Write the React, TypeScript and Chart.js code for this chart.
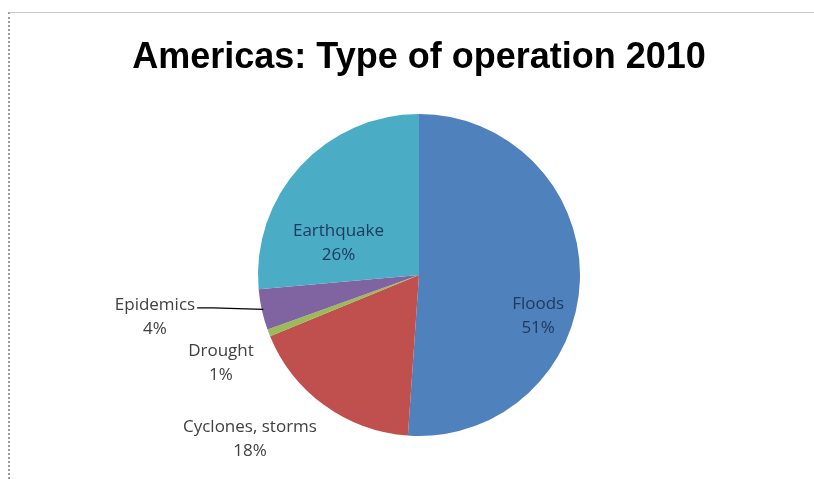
import React, { useEffect, useRef } from "react";
import { Chart, registerables } from "chart.js";

Chart.register(...registerables);

const TITLE = "Americas: Type of operation 2010";
const categories = ["Floods", "Cyclones, storms", "Drought", "Epidemics", "Earthquake"];
const shares = [51.1, 17.7, 0.7, 4.1, 26.4];
const colors = ["#4F81BD", "#C0504D", "#9BBB59", "#8064A2", "#4BACC6"];
const labelLines = [["Floods"], ["Cyclones, storms"], ["Drought"], ["Epidemics"], ["Earthquake"]];
// label placement relative to pie centre in radius units
const labelOffsets = [
  [0.74, 0.255],
  [-1.05, 1.02],
  [-1.23, 0.55],
  [-1.64, 0.26],
  [-0.50, -0.20],
];
const insideLabel = [true, false, false, false, true];

const labelPlugin = {
  id: "excelLabels",
  afterDraw(chart: any) {
    const ctx = chart.ctx;
    const meta = chart.getDatasetMeta(0);
    const arc0 = meta.data[0];
    const cx = arc0.x, cy = arc0.y, r = arc0.outerRadius;
    ctx.save();
    ctx.fillStyle = "#000000";
    ctx.font = "bold 36px 'Liberation Sans', Arial, sans-serif";
    ctx.textAlign = "center";
    ctx.textBaseline = "middle";
    ctx.fillText(TITLE, cx, 58);
    ctx.font = "17px 'Open Sans', sans-serif";
    meta.data.forEach((arc: any, i: number) => {
      const lx = cx + labelOffsets[i][0] * r;
      const ly = cy + labelOffsets[i][1] * r;
      ctx.fillStyle = insideLabel[i] ? "#1F3A60" : "#404040";
      const lines = [...labelLines[i], Math.round(shares[i]) + "%"];
      const lh = 24;
      lines.forEach((t: string, k: number) => {
        ctx.fillText(t, lx, ly + (k - (lines.length - 1) / 2) * lh);
      });
      if (categories[i] === "Epidemics") {
        const mid = (arc.startAngle + arc.endAngle) / 2;
        const ex = cx + Math.cos(mid) * r * 0.99;
        const ey = cy + Math.sin(mid) * r * 0.99;
        const w = ctx.measureText(labelLines[i][0]).width;
        const sx = lx + w / 2 + 2;
        const sy = ly - lh / 2 + 3;
        ctx.strokeStyle = "#000000";
        ctx.lineWidth = 1.2;
        ctx.beginPath();
        ctx.moveTo(sx, sy);
        ctx.lineTo(sx + 16, sy);
        ctx.lineTo(ex, ey);
        ctx.stroke();
      }
    });
    ctx.restore();
  },
};

export default function App() {
  const ref = useRef<HTMLCanvasElement | null>(null);
  useEffect(() => {
    document.body.style.margin = "0";
    const chart = new Chart(ref.current!, {
      type: "pie",
      data: {
        labels: categories,
        datasets: [
          {
            data: shares,
            backgroundColor: colors,
            borderWidth: 0,
          },
        ],
      },
      options: {
        animation: false,
        responsive: false,
        maintainAspectRatio: false,
        layout: { padding: { top: 114, bottom: 43, left: 258, right: 234 } },
        plugins: {
          legend: { display: false },
          title: { display: false },
          tooltip: { enabled: false },
        },
      },
      plugins: [labelPlugin],
    });
    return () => chart.destroy();
  }, []);
  return (
    <div style={{ position: "relative", width: 814, height: 479, background: "#fff" }}>
      <div
        style={{
          position: "absolute",
          left: 8,
          top: 12,
          right: 0,
          bottom: 0,
          borderTop: "1px solid #c8c8c8",
          borderLeft: "2px dotted #9a9a9a",
        }}
      />
      <canvas ref={ref} width={814} height={479} style={{ position: "absolute", left: 0, top: 0 }} />
    </div>
  );
}
